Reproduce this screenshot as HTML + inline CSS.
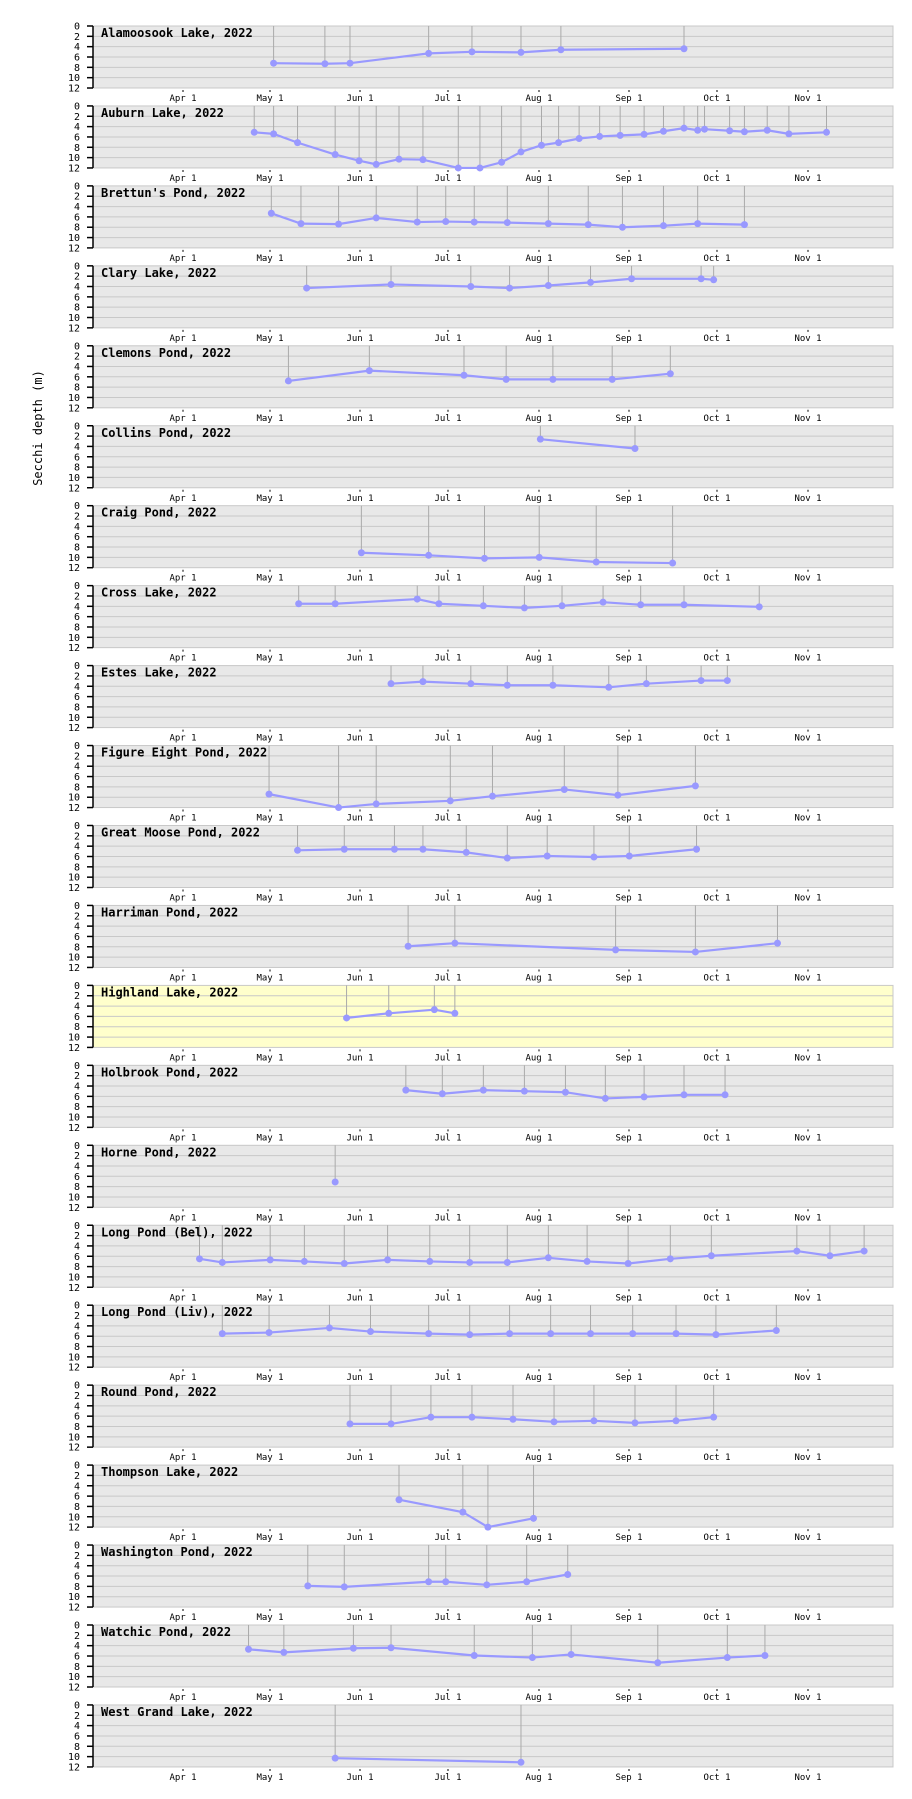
<!DOCTYPE html>
<html><head><meta charset="utf-8"><style>
html,body{margin:0;padding:0;background:#fff;width:912px;height:1799px;overflow:hidden}
svg{display:block}
text{font-family:"DejaVu Sans Mono","Liberation Mono",monospace}
</style></head><body>
<svg id="s" width="912" height="1799" xmlns="http://www.w3.org/2000/svg">
<text x="0" y="0" transform="translate(42,428) rotate(-90)" text-anchor="middle" font-size="12" fill="#000">Secchi depth (m)</text>
</svg>
<script>
var D=[
["Alamoosook Lake, 2022",[[240,7.2],[285,7.3],[307,7.2],[376,5.3],[414,5.0],[457,5.1],[492,4.6],[600,4.4]]],
["Auburn Lake, 2022",[[223,5],[240,5.3],[261,7],[294,9.3],[315,10.5],[330,11.2],[350,10.2],[371,10.3],[402,12],[421,12],[440,10.8],[457,8.8],[475,7.5],[490,7.0],[508,6.2],[526,5.8],[544,5.6],[565,5.4],[582,4.8],[600,4.2],[612,4.6],[618,4.4],[640,4.7],[653,4.9],[673,4.6],[692,5.3],[725,5.0]]],
["Brettun's Pond, 2022",[[238,5.1],[264,7.1],[297,7.2],[330,6.0],[366,6.8],[391,6.7],[416,6.8],[445,6.9],[481,7.1],[516,7.3],[546,7.8],[582,7.5],[612,7.1],[653,7.3]]],
["Clary Lake, 2022",[[269,4.0],[343,3.3],[413,3.7],[447,4.0],[481,3.5],[518,2.9],[554,2.2],[615,2.2],[626,2.4]]],
["Clemons Pond, 2022",[[253,6.4],[324,4.4],[407,5.3],[444,6.1],[485,6.1],[537,6.1],[588,5.0]]],
["Collins Pond, 2022",[[474,2.1],[557,3.9]]],
["Craig Pond, 2022",[[317,8.5],[376,9.0],[425,9.6],[473,9.4],[523,10.3],[590,10.5]]],
["Cross Lake, 2022",[[262,2.8],[294,2.8],[366,1.9],[385,2.8],[424,3.2],[460,3.6],[493,3.2],[529,2.5],[562,3.0],[600,3.0],[666,3.4]]],
["Estes Lake, 2022",[[343,2.7],[371,2.3],[413,2.7],[445,3.0],[485,3.0],[534,3.4],[567,2.7],[615,2.1],[638,2.1]]],
["Figure Eight Pond, 2022",[[236,8.5],[297,12],[330,10.4],[395,9.8],[432,8.9],[495,7.6],[542,8.7],[610,6.9]]],
["Great Moose Pond, 2022",[[261,3.8],[302,3.6],[346,3.6],[371,3.6],[409,4.2],[445,5.3],[480,4.9],[521,5.1],[552,4.9],[611,3.6]]],
["Harriman Pond, 2022",[[358,6.8],[399,6.2],[540,7.5],[610,7.9],[682,6.2]]],
["Highland Lake, 2022",[[304,5.1],[341,4.2],[381,3.5],[399,4.2]]],
["Holbrook Pond, 2022",[[356,3.5],[388,4.2],[424,3.5],[460,3.7],[496,3.9],[531,5.1],[565,4.8],[600,4.4],[636,4.4]]],
["Horne Pond, 2022",[[294,5.7]]],
["Long Pond (Bel), 2022",[[175,5.0],[195,5.7],[237,5.2],[267,5.5],[302,5.9],[340,5.2],[377,5.5],[412,5.7],[445,5.7],[481,4.8],[515,5.5],[551,5.9],[588,5.0],[624,4.4],[699,3.5],[728,4.4],[758,3.5]]],
["Long Pond (Liv), 2022",[[195,3.9],[236,3.7],[289,2.8],[325,3.5],[376,3.9],[412,4.1],[447,3.9],[483,3.9],[518,3.9],[555,3.9],[593,3.9],[628,4.1],[681,3.3]]],
["Round Pond, 2022",[[307,5.8],[343,5.8],[378,4.5],[414,4.5],[450,4.9],[486,5.4],[521,5.2],[557,5.6],[593,5.2],[626,4.5]]],
["Thompson Lake, 2022",[[350,6.7],[406,9.1],[428,12],[468,10.3]],1],
["Washington Pond, 2022",[[270,7.9],[302,8.1],[376,7.1],[391,7.1],[427,7.7],[462,7.1],[498,5.7]],1],
["Watchic Pond, 2022",[[218,4.7],[249,5.3],[310,4.5],[343,4.4],[416,5.9],[467,6.3],[501,5.7],[577,7.3],[638,6.3],[671,5.9]],1],
["West Grand Lake, 2022",[[294,10.3],[457,11.1]],1]
];
var NS="http://www.w3.org/2000/svg",s=document.getElementById("s"),h="";
var X0=93,X1=893,H=62,months=[["Apr 1",183],["May 1",270],["Jun 1",360],["Jul 1",448],["Aug 1",539],["Sep 1",629],["Oct 1",717],["Nov 1",808]];
D.forEach(function(p,k){
 var top=26+k*79.95,bot=top+H;
 var bg=(k==12)?"#ffffcc":"#e8e8e8";
 h+='<rect x="'+X0+'" y="'+top+'" width="'+(X1-X0)+'" height="'+H+'" fill="'+bg+'" stroke="#c8c8c8" stroke-width="1"/>';
 for(var d=2;d<=10;d+=2){var y=top+d/12*H;h+='<line x1="'+X0+'" x2="'+X1+'" y1="'+y+'" y2="'+y+'" stroke="#c8c8c8" stroke-width="1"/>';}
 h+='<line x1="'+X0+'" x2="'+X0+'" y1="'+top+'" y2="'+bot+'" stroke="#000" stroke-width="1.5"/>';
 for(var d=0;d<=12;d+=2){var y=top+d/12*H;h+='<line x1="'+(X0-6)+'" x2="'+X0+'" y1="'+y+'" y2="'+y+'" stroke="#000" stroke-width="1.5"/><text x="'+(X0-13)+'" y="'+(y+3.5)+'" font-size="10" text-anchor="end">'+d+'</text>';}
 months.forEach(function(m){h+='<line x1="'+m[1]+'" x2="'+m[1]+'" y1="'+(bot+2)+'" y2="'+(bot+4)+'" stroke="#000"/><text x="'+m[1]+'" y="'+(bot+13)+'" font-size="9" text-anchor="middle">'+m[0]+'</text>';});
 var pts=p[1].map(function(q){var dep=q[1]+(p[2]?0:0.1*k);if(dep>12)dep=12;return [q[0]*1.14,top+dep/12*H];});
 pts.forEach(function(q){h+='<line x1="'+q[0]+'" x2="'+q[0]+'" y1="'+top+'" y2="'+q[1]+'" stroke="#aaa" stroke-width="1"/>';});
 if(pts.length>1)h+='<polyline fill="none" stroke="#9999ff" stroke-width="2.2" points="'+pts.map(function(q){return q[0]+","+q[1]}).join(" ")+'"/>';
 pts.forEach(function(q){h+='<circle cx="'+q[0]+'" cy="'+q[1]+'" r="3.5" fill="#9999ff"/>';});
 h+='<text x="101" y="'+(top+11)+'" font-size="12" font-weight="bold">'+p[0].replace("'","&#39;")+'</text>';
});
s.insertAdjacentHTML("beforeend",h);
</script>
</body></html>
